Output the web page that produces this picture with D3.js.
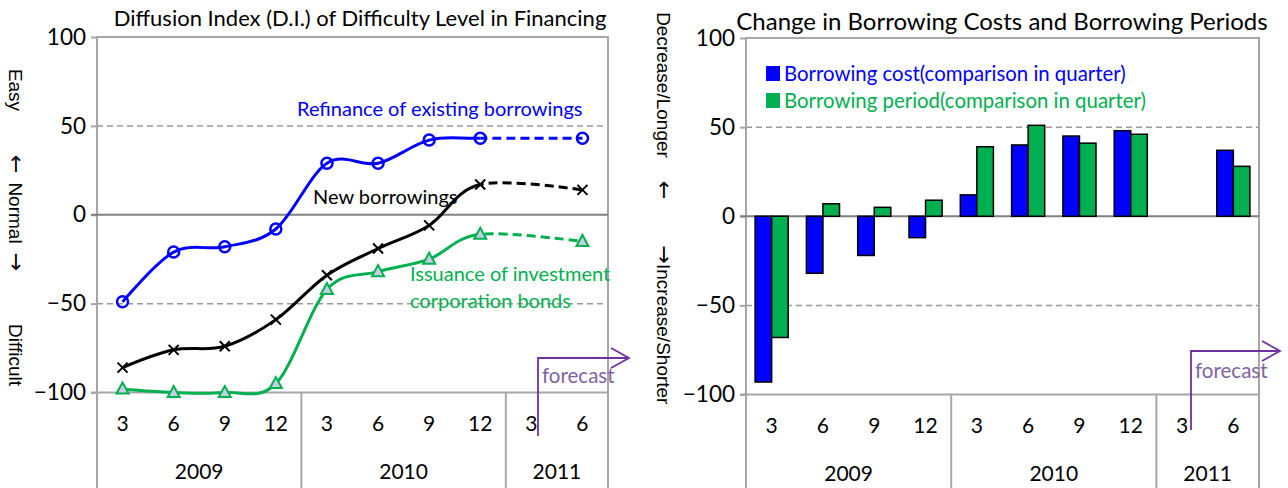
<!DOCTYPE html>
<html>
<head>
<meta charset="utf-8">
<script src="https://cdn.jsdelivr.net/npm/d3@7"></script>
<style>
  body { margin: 0; background: #fff; }
  text { font-family: Lato, "Open Sans", sans-serif; }
  .rot { font-family: "Liberation Sans", Arial, sans-serif; }
  .arrow { font-family: "DejaVu Sans", sans-serif; }
</style>
</head>
<body>
<div id="chart"></div>
<script>
// categories (quarter-end months) and year groups
const months = ["3", "6", "9", "12", "3", "6", "9", "12", "3", "6"];
const yearLabels = ["2009", "2010", "2011"];
const yearSpans = [4, 4, 2];
const lastActual = 7; // 12/2010, after that it is forecast

// left chart: D.I. of difficulty level
const refinance = [-49, -21, -18, -8, 29, 29, 42, 43, null, 43];
const newBorrowings = [-86, -76, -74, -59, -34, -19, -6, 17, null, 14];
const issuance = [-98, -100, -100, -95, -42, -32, -25, -11, null, -15];

// right chart: change in borrowing costs / periods
const borrowingCost = [-93, -32, -22, -12, 12, 40, 45, 48, null, 37];
const borrowingPeriod = [-68, 7, 5, 9, 39, 51, 41, 46, null, 28];

const yTicks = [-100, -50, 0, 50, 100];

const W = 1288, H = 488;
const BLUE = "#0000ff", GREEN = "#00b050", PURPLE = "#7030a0";
const GRID = "#a6a6a6";

const svg = d3.select("#chart").append("svg")
  .attr("width", W)
  .attr("height", H)
  .style("background", "#fff");

// draws the box, grid, y axis and the two row category axis
function drawFrame(x, y) {
  const g = svg.append("g");
  const left = x.range()[0], right = x.range()[1];
  const bw = x.bandwidth();

  // dashed guide lines at +-50
  g.selectAll(".dash").data([50, -50]).join("line")
    .attr("x1", left).attr("x2", right)
    .attr("y1", d => y(d)).attr("y2", d => y(d))
    .attr("stroke", "#999").attr("stroke-width", 1.5)
    .attr("stroke-dasharray", "6,4");

  // top border and the bottom (-100) line
  g.append("line").attr("x1", left).attr("x2", right)
    .attr("y1", y(100)).attr("y2", y(100))
    .attr("stroke", GRID).attr("stroke-width", 2);
  g.append("line").attr("x1", left - 6).attr("x2", right)
    .attr("y1", y(-100)).attr("y2", y(-100))
    .attr("stroke", GRID).attr("stroke-width", 2);

  // left / right borders go down through the category rows
  [left, right].forEach(px => {
    g.append("line").attr("x1", px).attr("x2", px)
      .attr("y1", y(100) - 1).attr("y2", H)
      .attr("stroke", GRID).attr("stroke-width", 2);
  });

  // year separators
  let acc = 0;
  yearSpans.slice(0, -1).forEach(n => {
    acc += n;
    const px = x(acc);
    g.append("line").attr("x1", px).attr("x2", px)
      .attr("y1", y(-100)).attr("y2", H)
      .attr("stroke", GRID).attr("stroke-width", 2);
  });

  // y axis
  const axis = g.append("g")
    .attr("transform", `translate(${left},0)`)
    .call(d3.axisLeft(y).tickValues(yTicks).tickSize(6).tickPadding(5));
  axis.select(".domain").remove();
  axis.selectAll(".tick line").attr("stroke", GRID).attr("stroke-width", 2);
  axis.selectAll(".tick text")
    .style("font-family", "Lato, sans-serif")
    .style("font-size", "22.5px")
    .attr("fill", "#000");

  // month labels
  g.selectAll(".month").data(months).join("text")
    .attr("x", (d, i) => x(i) + bw / 2)
    .attr("y", y(-100) + 38)
    .attr("text-anchor", "middle")
    .style("font-size", "21px")
    .text(d => d);

  // year labels
  let start = 0;
  yearLabels.forEach((lab, k) => {
    const cx = x(start) + yearSpans[k] * bw / 2;
    g.append("text")
      .attr("x", cx).attr("y", y(-100) + 86)
      .attr("text-anchor", "middle")
      .style("font-size", "21px")
      .text(lab);
    start += yearSpans[k];
  });
  return g;
}

function drawForecast(px, yBottom, yTop, tipX, tx, ty) {
  const g = svg.append("g").attr("fill", "none").attr("stroke", PURPLE).attr("stroke-width", 1.8);
  g.append("path").attr("d", `M${px},${yBottom}V${yTop}H${tipX}`);
  g.append("path").attr("d", `M${tipX - 18},${yTop - 10}L${tipX},${yTop}L${tipX - 18},${yTop + 10}`);
  svg.append("text").attr("x", tx).attr("y", ty)
    .attr("fill", "#8064a2")
    .style("font-size", "20.5px")
    .text("forecast");
}

// rotated (top to bottom) axis caption, parts = [[text, isArrow], ...]
function rotLabel(cx, cy, parts) {
  const t = svg.append("text").attr("class", "rot")
    .attr("transform", `translate(${cx},${cy}) rotate(90)`)
    .attr("text-anchor", "middle")
    .attr("dy", "0.35em")
    .attr("fill", "#000")
    .style("font-size", "19px");
  parts.forEach(([s, isArrow]) => {
    const sp = t.append("tspan").text(s);
    if (isArrow) sp.attr("class", "arrow").style("font-size", "22px");
  });
}

// ---------- left chart ----------
const x1 = d3.scaleBand().domain(d3.range(months.length)).range([97, 608]);
const y1 = d3.scaleLinear().domain([-100, 100]).range([392.5, 37]);
drawFrame(x1, y1);

svg.append("line")
  .attr("x1", 91).attr("x2", 608)
  .attr("y1", y1(0)).attr("y2", y1(0))
  .attr("stroke", "#808080").attr("stroke-width", 2);

svg.append("text").attr("x", 360).attr("y", 26)
  .attr("text-anchor", "middle").style("font-size", "22px")
  .text("Diffusion Index (D.I.) of Difficulty Level in Financing");

const cx1 = i => x1(i) + x1.bandwidth() / 2;
const splitX = cx1(lastActual);
const defs = svg.append("defs");
defs.append("clipPath").attr("id", "solidPart")
  .append("rect").attr("x", 0).attr("y", 0).attr("width", splitX).attr("height", H);
defs.append("clipPath").attr("id", "dashPart")
  .append("rect").attr("x", splitX).attr("y", 0).attr("width", W - splitX).attr("height", H);

const line = d3.line()
  .x(d => cx1(d.i))
  .y(d => y1(d.v))
  .curve(d3.curveCardinal.tension(0));

const series = [
  { values: newBorrowings, color: "#000", marker: "x" },
  { values: issuance, color: GREEN, marker: "tri" },
  { values: refinance, color: BLUE, marker: "circle" }
];

series.forEach(s => {
  const pts = s.values.map((v, i) => ({ i, v })).filter(d => d.v != null);
  const g = svg.append("g");
  g.append("path").datum(pts)
    .attr("d", line).attr("fill", "none")
    .attr("stroke", s.color).attr("stroke-width", 3)
    .attr("clip-path", "url(#solidPart)");
  g.append("path").datum(pts)
    .attr("d", line).attr("fill", "none")
    .attr("stroke", s.color).attr("stroke-width", 3)
    .attr("stroke-dasharray", "9,5")
    .attr("clip-path", "url(#dashPart)");

  const m = g.selectAll(".mk").data(pts).join("g")
    .attr("transform", d => `translate(${cx1(d.i)},${y1(d.v)})`);
  if (s.marker === "circle") {
    m.append("circle").attr("r", 5.5)
      .attr("fill", "none").attr("stroke", s.color).attr("stroke-width", 2.5);
  } else if (s.marker === "tri") {
    m.append("path").attr("d", "M0,-6.5L6,4.5L-6,4.5Z")
      .attr("fill", "#c6cde3").attr("stroke", s.color).attr("stroke-width", 2);
  } else {
    m.append("path").attr("d", "M-5,-5L5,5M-5,5L5,-5")
      .attr("stroke", s.color).attr("stroke-width", 2);
  }
});

svg.append("text").attr("x", 297).attr("y", 116)
  .attr("fill", BLUE).style("font-size", "20px")
  .text("Refinance of existing borrowings");
svg.append("text").attr("x", 313).attr("y", 204)
  .attr("fill", "#000").style("font-size", "20px")
  .text("New borrowings");
svg.append("text").attr("x", 410).attr("y", 281)
  .attr("fill", GREEN).style("font-size", "20px")
  .text("Issuance of investment");
svg.append("text").attr("x", 410).attr("y", 308)
  .attr("fill", GREEN).style("font-size", "20px")
  .text("corporation bonds");

drawForecast(538, 436, 358, 629, 542, 383);

rotLabel(16, 90, [["Easy"]]);
rotLabel(16, 164, [["←", true]]);
rotLabel(16, 213, [["Normal"]]);
rotLabel(16, 262, [["→", true]]);
rotLabel(16, 355, [["Difficult"]]);

// ---------- right chart ----------
const x2 = d3.scaleBand().domain(d3.range(months.length)).range([746, 1259]);
const y2 = d3.scaleLinear().domain([-100, 100]).range([394.5, 38]);
drawFrame(x2, y2);

svg.append("line")
  .attr("x1", 740).attr("x2", 1259)
  .attr("y1", y2(0)).attr("y2", y2(0))
  .attr("stroke", "#808080").attr("stroke-width", 2);

svg.append("text").attr("x", 1002).attr("y", 30)
  .attr("text-anchor", "middle").style("font-size", "24px")
  .text("Change in Borrowing Costs and Borrowing Periods");

const sub = d3.scaleBand().domain(["cost", "period"])
  .range([0, x2.bandwidth()]).paddingOuter(0.55).paddingInner(0);

const barData = [];
borrowingCost.forEach((v, i) => { if (v != null) barData.push({ i, k: "cost", v }); });
borrowingPeriod.forEach((v, i) => { if (v != null) barData.push({ i, k: "period", v }); });

svg.append("g").selectAll("rect").data(barData).join("rect")
  .attr("x", d => x2(d.i) + sub(d.k))
  .attr("width", sub.bandwidth())
  .attr("y", d => Math.min(y2(d.v), y2(0)))
  .attr("height", d => Math.abs(y2(d.v) - y2(0)))
  .attr("fill", d => d.k === "cost" ? BLUE : GREEN)
  .attr("stroke", "#000").attr("stroke-width", 1.5);

// legend
const legend = [
  { label: "Borrowing cost(comparison in quarter)", color: BLUE },
  { label: "Borrowing period(comparison in quarter)", color: GREEN }
];
legend.forEach((d, k) => {
  svg.append("rect").attr("x", 766).attr("y", 66 + k * 27)
    .attr("width", 14).attr("height", 15).attr("fill", d.color);
  svg.append("text").attr("x", 784).attr("y", 81 + k * 27)
    .attr("fill", d.color).style("font-size", "20.4px")
    .text(d.label);
});

drawForecast(1191, 430, 351, 1280, 1195, 378);

rotLabel(664, 85, [["Decrease/Longer"]]);
rotLabel(664, 190, [["←", true]]);
rotLabel(664, 325, [["→", true], ["Increase/Shorter"]]);
</script>
</body>
</html>
